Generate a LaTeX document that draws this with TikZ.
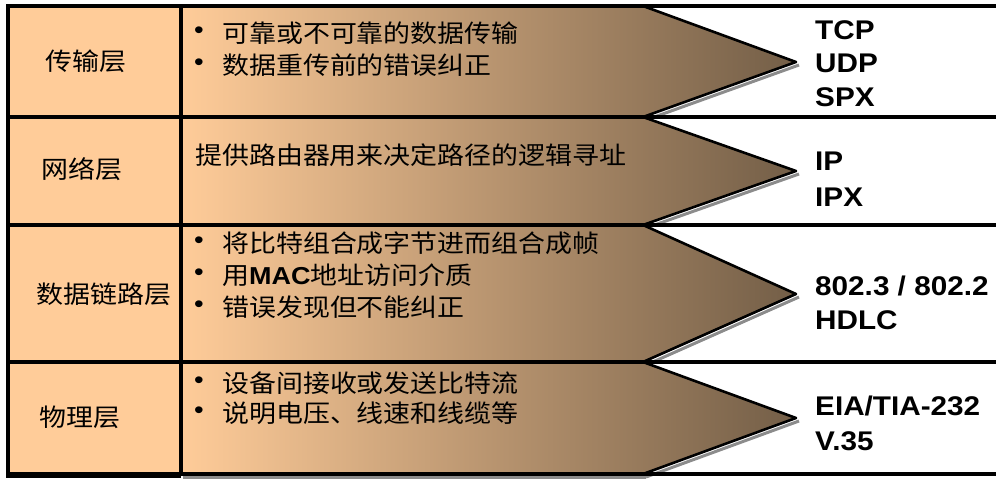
\documentclass[tikz,border=0pt]{standalone}
\usepackage{fontspec}
\setmainfont{Liberation Sans}[FakeStretch=1.1]
\newfontfamily\cjk{Noto Sans CJK SC}[FakeStretch=1.1]
\definecolor{peach}{HTML}{FFCC99}
\definecolor{brownend}{HTML}{735E47}
\definecolor{shadowgray}{HTML}{8C8C8C}
\tikzset{
  arrowfill/.style={left color=peach, right color=brownend, draw=none},
  slant/.style={line width=2.6pt, black, line cap=round, line join=round},
  slantshadow/.style={line width=3pt, shadowgray},
  rule/.style={line width=3.6pt, black},
  lbl/.style={font=\cjk\fontsize{24.5}{30}\selectfont, inner sep=0pt},
  bul/.style={font=\fontsize{25}{30}\selectfont, inner sep=0pt},
  itemtext/.style={font=\cjk\fontsize{24.5}{30}\selectfont, inner sep=0pt, anchor=west},
  proto/.style={font=\bfseries\fontsize{27}{32}\selectfont, inner sep=0pt, anchor=west}
}
\begin{document}
\begin{tikzpicture}[x=1pt,y=-1pt]
\useasboundingbox (0,0) rectangle (1002,487);
\fill[white] (0,0) rectangle (1002,487);
% left column fill
\fill[peach] (7,6) rectangle (181,474);
% coordinates
\coordinate (t0) at (181,6);
\coordinate (t1) at (181,117);
\coordinate (t2) at (181,225);
\coordinate (t3) at (181,362);
\coordinate (t4) at (181,474);
\coordinate (b0) at (643,6);
\coordinate (b1) at (643,117);
\coordinate (b2) at (643,225);
\coordinate (b3) at (643,362);
\coordinate (b4) at (643,474);
\coordinate (p1) at (796,62);
\coordinate (p2) at (796,171);
\coordinate (p3) at (796,294);
\coordinate (p4) at (796,418);
% shadows of lower slants
\foreach \a/\b in {p1/b1,p2/b2,p3/b3,p4/b4}{
  \draw[slantshadow] ([shift={(3,3)}]\a) -- ([shift={(3,3)}]\b);
}
\fill[shadowgray] (183,475) rectangle (646,479);
% arrow fills
\shade[arrowfill] (t0) -- (b0) -- (p1) -- (b1) -- (t1) -- cycle;
\shade[arrowfill] (t1) -- (b1) -- (p2) -- (b2) -- (t2) -- cycle;
\shade[arrowfill] (t2) -- (b2) -- (p3) -- (b3) -- (t3) -- cycle;
\shade[arrowfill] (t3) -- (b3) -- (p4) -- (b4) -- (t4) -- cycle;
% slant edges
\draw[slant] (b0) -- (p1) -- (b1) -- (p2) -- (b2) -- (p3) -- (b3) -- (p4) -- (b4);
% horizontal rules
\coordinate (l0) at (6,6);   \coordinate (r0) at (996,6);
\coordinate (l1) at (6,117); \coordinate (r1) at (996,117);
\coordinate (l2) at (6,225); \coordinate (r2) at (996,225);
\coordinate (l3) at (6,362); \coordinate (r3) at (996,362);
\coordinate (l4) at (6,474); \coordinate (r4) at (996,474);
\draw[rule] (l0) -- (r0);
\draw[rule] (l1) -- (r1);
\draw[rule] (l2) -- (r2);
\draw[rule] (l3) -- (r3);
\draw[rule] (l4) -- (r4);
\fill[black] (6,474) rectangle (181,477.5);
% vertical rules
\draw[rule] (7.8,4.2) -- (7.8,476);
\draw[rule] ([yshift=-1.8]t0) -- ([yshift=1.8]t4);
% left labels
\node[lbl] (n1) at (86,61) {传输层};
\node[lbl] (n2) at (82,169) {网络层};
\node[lbl] (n3) at (104,294) {数据链路层};
\node[lbl] (n4) at (80,417) {物理层};
% row 1 bullets
\node[bul] (u11) at (199,33) {•};
\node[itemtext] (i11) at (222,33) {可靠或不可靠的数据传输};
\node[bul] (u12) at (199,65) {•};
\node[itemtext] (i12) at (222,65) {数据重传前的错误纠正};
% row 2
\node[itemtext] (i21) at (195,155) {提供路由器用来决定路径的逻辑寻址};
% row 3
\node[bul] (u31) at (199,243) {•};
\node[itemtext] (i31) at (222,243) {将比特组合成字节进而组合成帧};
\node[bul] (u32) at (199,275) {•};
\node[itemtext] (i32) at (222,275) {用{\rmfamily\bfseries MAC}地址访问介质};
\node[bul] (u33) at (199,307) {•};
\node[itemtext] (i33) at (222,307) {错误发现但不能纠正};
% row 4
\node[bul] (u41) at (199,383) {•};
\node[itemtext] (i41) at (222,383) {设备间接收或发送比特流};
\node[bul] (u42) at (199,413) {•};
\node[itemtext] (i42) at (222,413) {说明电压、线速和线缆等};
% protocols
\node[proto] (q11) at (815,30) {TCP};
\node[proto] (q12) at (815,63) {UDP};
\node[proto] (q13) at (815,97) {SPX};
\node[proto] (q21) at (815,161) {IP};
\node[proto] (q22) at (815,197) {IPX};
\node[proto] (q31) at (815,286) {802.3 / 802.2};
\node[proto] (q32) at (815,320) {HDLC};
\node[proto] (q41) at (815,406) {EIA/TIA-232};
\node[proto] (q42) at (815,441) {V.35};
\end{tikzpicture}
\end{document}
